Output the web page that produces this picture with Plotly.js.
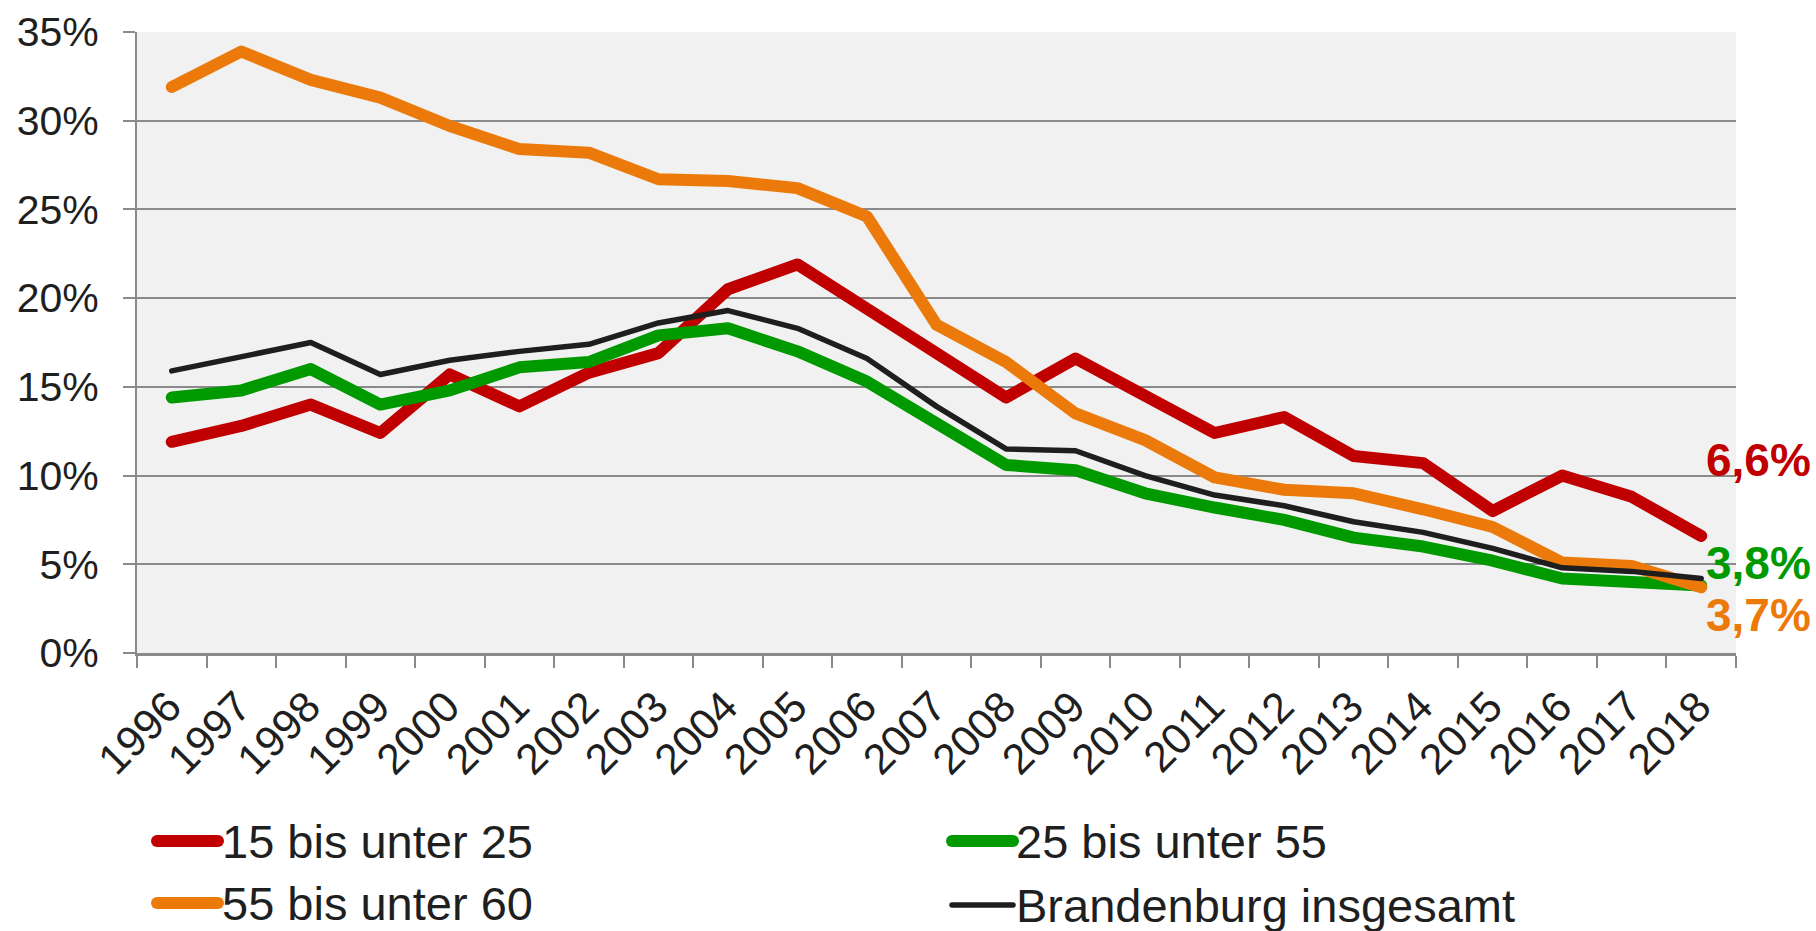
<!DOCTYPE html>
<html>
<head>
<meta charset="utf-8">
<script src="https://cdn.plot.ly/plotly-3.0.1.min.js"></script>
<style>
  html, body { margin: 0; padding: 0; background: #ffffff; }
  #chart { width: 1816px; height: 931px; }
  .scatterlayer path.js-line { stroke-linecap: round; stroke-linejoin: round; }
  .shapelayer path { stroke-linecap: round; }
</style>
</head>
<body>
<div id="chart"></div>
<script>
// ---- data ----
const years = ['1996','1997','1998','1999','2000','2001','2002','2003','2004','2005','2006','2007',
               '2008','2009','2010','2011','2012','2013','2014','2015','2016','2017','2018'];
const seriesNames = ['15 bis unter 25', '25 bis unter 55', '55 bis unter 60', 'Brandenburg insgesamt'];
const age15to25 = [11.9,12.8,14.0,12.4,15.7,13.9,15.8,16.9,20.5,21.9,19.4,16.9,14.4,16.6,14.5,12.4,13.3,11.1,10.7,8.0,10.0,8.8,6.6];
const age25to55 = [14.4,14.8,16.0,14.0,14.8,16.1,16.4,17.9,18.3,17.0,15.3,12.9,10.6,10.3,9.0,8.2,7.5,6.5,6.0,5.2,4.2,4.0,3.8];
const age55to60 = [31.9,33.9,32.3,31.3,29.7,28.4,28.2,26.7,26.6,26.2,24.6,18.5,16.4,13.5,12.0,9.9,9.2,9.0,8.1,7.1,5.1,4.9,3.7];
const brandenburg = [15.9,16.7,17.5,15.7,16.5,17.0,17.4,18.6,19.3,18.3,16.6,13.9,11.5,11.4,10.0,8.9,8.3,7.4,6.8,5.9,4.8,4.6,4.2];
const yTickVals = [0,5,10,15,20,25,30,35];

// ---- styles ----
const colors = ['#C00000', '#009900', '#EB7A0A', '#1E1E1E'];
const widths = [12, 12, 12, 5.5];
const FONT = '"Liberation Sans", Arial, sans-serif';
const TXT = '#1f1f1f';

const seriesData = [age15to25, age25to55, age55to60, brandenburg];
const traces = seriesData.map((vals, i) => ({
  type: 'scatter', mode: 'lines', name: seriesNames[i],
  x: years, y: vals,
  line: { color: colors[i], width: widths[i] },
  hoverinfo: 'x+y', showlegend: false
}));

// plot area pixel geometry
const L = 137, R = 80, T = 32, B = 278, W = 1816, H = 931;
const pw = W - L - R, ph = H - T - B;
const px = x => (x - L) / pw;
const py = y => (H - B - y) / ph;

const fmt = v => String(v).replace('.', ',') + '%';
const lastIdx = years.length - 1;

// end labels (series 0,1,2)
const endShift = [76, 23, -28];
const annotations = [0, 1, 2].map(i => ({
  x: lastIdx, y: seriesData[i][lastIdx], xref: 'x', yref: 'y',
  text: '<b>' + fmt(seriesData[i][lastIdx]) + '</b>',
  showarrow: false, xanchor: 'left', yanchor: 'middle',
  xshift: 3, yshift: endShift[i],
  font: { family: FONT, size: 46, color: colors[i] }
}));

// custom legend
const legendPos = [
  { lx0: 157, lx1: 218, ly: 841, tx: 220 },
  { lx0: 952, lx1: 1013, ly: 841, tx: 1014 },
  { lx0: 157, lx1: 218, ly: 903, tx: 220 },
  { lx0: 952, lx1: 1013, ly: 905, tx: 1014 }
];
const legendWidths = [12, 12, 12, 5.5];
const shapes = [];
legendPos.forEach((p, i) => {
  shapes.push({
    type: 'line', xref: 'paper', yref: 'paper',
    x0: px(p.lx0), x1: px(p.lx1), y0: py(p.ly), y1: py(p.ly),
    line: { color: colors[i], width: legendWidths[i] }
  });
  annotations.push({
    x: px(p.tx), y: py(p.ly), xref: 'paper', yref: 'paper',
    text: seriesNames[i], showarrow: false, xanchor: 'left', yanchor: 'middle',
    font: { family: FONT, size: 47, color: TXT }
  });
});

const layout = {
  width: W, height: H,
  margin: { l: L, r: R, t: T, b: B, pad: 0 },
  paper_bgcolor: '#ffffff',
  plot_bgcolor: '#F1F1F1',
  showlegend: false,
  font: { family: FONT, color: TXT },
  xaxis: {
    type: 'category', range: [-0.5, years.length - 0.5],
    tickson: 'boundaries', ticks: 'outside', ticklen: 12, tickwidth: 2, tickcolor: '#8a8a8a',
    showgrid: false, zeroline: false,
    showline: true, linecolor: '#8a8a8a', linewidth: 3,
    tickangle: -45, tickfont: { family: FONT, size: 43, color: TXT },
    ticklabelstandoff: 8, ticklabelshift: -3,
    fixedrange: true
  },
  yaxis: {
    range: [0, 35], tickvals: yTickVals, ticktext: yTickVals.map(v => v + '%'),
    ticks: 'outside', ticklen: 12, tickwidth: 2, tickcolor: '#8a8a8a',
    showgrid: true, gridcolor: '#8a8a8a', gridwidth: 2,
    zeroline: false, showline: true, linecolor: '#8a8a8a', linewidth: 2,
    tickfont: { family: FONT, size: 41, color: TXT },
    ticklabelstandoff: 16,
    fixedrange: true
  },
  shapes: shapes,
  annotations: annotations
};

Plotly.newPlot('chart', traces, layout, { displayModeBar: false, staticPlot: true });
</script>
</body>
</html>
